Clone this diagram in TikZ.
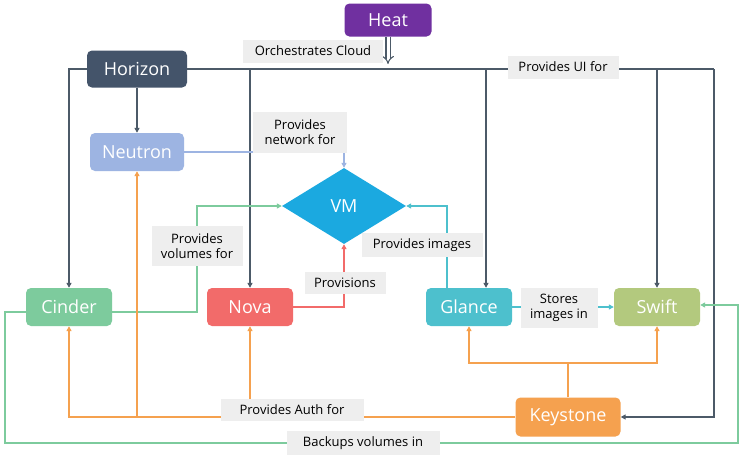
\documentclass[tikz,border=0pt]{standalone}
\usepackage{fontspec}
\setmainfont{Open Sans}
\usetikzlibrary{arrows.meta,shapes.geometric}
\definecolor{heatc}{HTML}{7030A0}
\definecolor{horc}{HTML}{44546A}
\definecolor{neuc}{HTML}{9DB4E2}
\definecolor{vmc}{HTML}{1BA9E0}
\definecolor{cinc}{HTML}{7DCB9D}
\definecolor{novac}{HTML}{F26B6A}
\definecolor{glc}{HTML}{4DC0CD}
\definecolor{swc}{HTML}{B3C97E}
\definecolor{kc}{HTML}{F5A14F}
\definecolor{lblbg}{HTML}{EEEEEE}
\definecolor{dkline}{HTML}{4C5A68}
\tikzset{
  box/.style={rounded corners=5pt, minimum width=86pt, minimum height=38pt, text=white, font=\fontsize{18}{21}\selectfont, inner sep=0pt},
  lbl/.style={fill=lblbg, font=\fontsize{13}{15}\selectfont, align=center, inner sep=0pt},
  tip/.style={-{Triangle[length=5pt,width=5pt]}},
  dk/.style={draw=dkline, line width=1.8pt},
  cl/.style={line width=1.5pt},
}
\begin{document}
\begin{tikzpicture}[x=1pt,y=-1pt]
\useasboundingbox[fill=white] (0,0) rectangle (745,458);
% nodes
\node[box, fill=heatc, minimum width=87pt, minimum height=33pt] (heat) at (388,20) {Heat};
\node[box, fill=horc, minimum width=100pt, minimum height=37pt] (horizon) at (137,69) {Horizon};
\node[box, fill=neuc, minimum width=94pt] (neutron) at (137,152) {Neutron};
\node[diamond, fill=vmc, minimum width=124pt, minimum height=76pt, inner sep=0pt, text=white, font=\fontsize{18}{21}\selectfont] (vm) at (344,206) {VM};
\node[box, fill=cinc] (cinder) at (69,307) {Cinder};
\node[box, fill=novac] (nova) at (250,307) {Nova};
\node[box, fill=glc] (glance) at (469,307) {Glance};
\node[box, fill=swc] (swift) at (657,307) {Swift};
\node[box, fill=kc, minimum width=105pt, minimum height=39pt] (keystone) at (568,417) {Keystone};
% coordinates
\coordinate (hr) at (714,69);
\coordinate (jg) at (486,69);
\coordinate (hta) at (388,64);
\coordinate (cv) at (197,312);
\coordinate (kj) at (568,363);
\coordinate (bl) at (5,443);
\coordinate (br) at (738,443);
% Horizon connectors
\draw[dk] (horizon.east) -- (hr);
\draw[dk,tip] (hr) |- (keystone.east);
\draw[dk,tip] (horizon.west) -| (cinder.north);
\draw[dk,tip] (horizon.south) -- (neutron.north);
\draw[dk,tip] (nova.north |- horizon.east) -- (nova.north);
\draw[dk,tip] (jg) -- (jg |- glance.north);
\draw[dk,tip] (swift.north |- horizon.east) -- (swift.north);
% Heat
\draw[draw=dkline, double=white, double distance=3pt, line width=1.1pt, -{Implies[length=6pt,width=10pt]}] (heat.south) -- (hta);
% to VM
\draw[cl,draw=neuc,tip] (neutron.east) -| (vm.north);
\draw[cl,draw=cinc,tip] ([yshift=-5pt]cinder.east) -- (cv) |- (vm.west);
\draw[cl,draw=novac,tip] (nova.east) -| (vm.south);
\draw[cl,draw=glc,tip] ([xshift=-22pt]glance.north) |- (vm.east);
\draw[cl,draw=glc,tip] (glance.east) -- (swift.west);
% Keystone
\draw[cl,draw=kc] (keystone.north) -- (kj);
\draw[cl,draw=kc,tip] (kj) -| (glance.south);
\draw[cl,draw=kc,tip] (kj) -| (swift.south);
\draw[cl,draw=kc,tip] (keystone.west) -| (cinder.south);
\draw[cl,draw=kc,tip] (neutron.south |- keystone.west) -- (neutron.south);
\draw[cl,draw=kc,tip] (nova.south |- keystone.west) -- (nova.south);
% backup
\draw[cl,draw=cinc,tip] ([yshift=-5pt]cinder.west) -| (bl) -- (br) |- ([yshift=2pt]swift.east);
% labels
\node[lbl, minimum width=140pt, minimum height=23pt] (lorch) at (313,51) {Orchestrates Cloud};
\node[lbl, minimum width=111pt, minimum height=23pt] (lui) at (563,67) {Provides UI for};
\node[lbl, minimum width=94pt, minimum height=41pt] (lnet) at (300,132) {Provides\\network for};
\node[lbl, minimum width=91pt, minimum height=40pt] (lvol) at (197,246) {Provides\\volumes for};
\node[lbl, minimum width=81pt, minimum height=22pt] (lprov) at (345,283) {Provisions};
\node[lbl, minimum width=121pt, minimum height=24pt] (limg) at (422,245) {Provides images};
\node[lbl, minimum width=77pt, minimum height=40pt] (lsto) at (559,308) {Stores\\images in};
\node[lbl, minimum width=143pt, minimum height=22pt] (lauth) at (292,410) {Provides Auth for};
\node[lbl, minimum width=153pt, minimum height=24pt] (lback) at (363,443) {Backups volumes in};
\end{tikzpicture}
\end{document}
